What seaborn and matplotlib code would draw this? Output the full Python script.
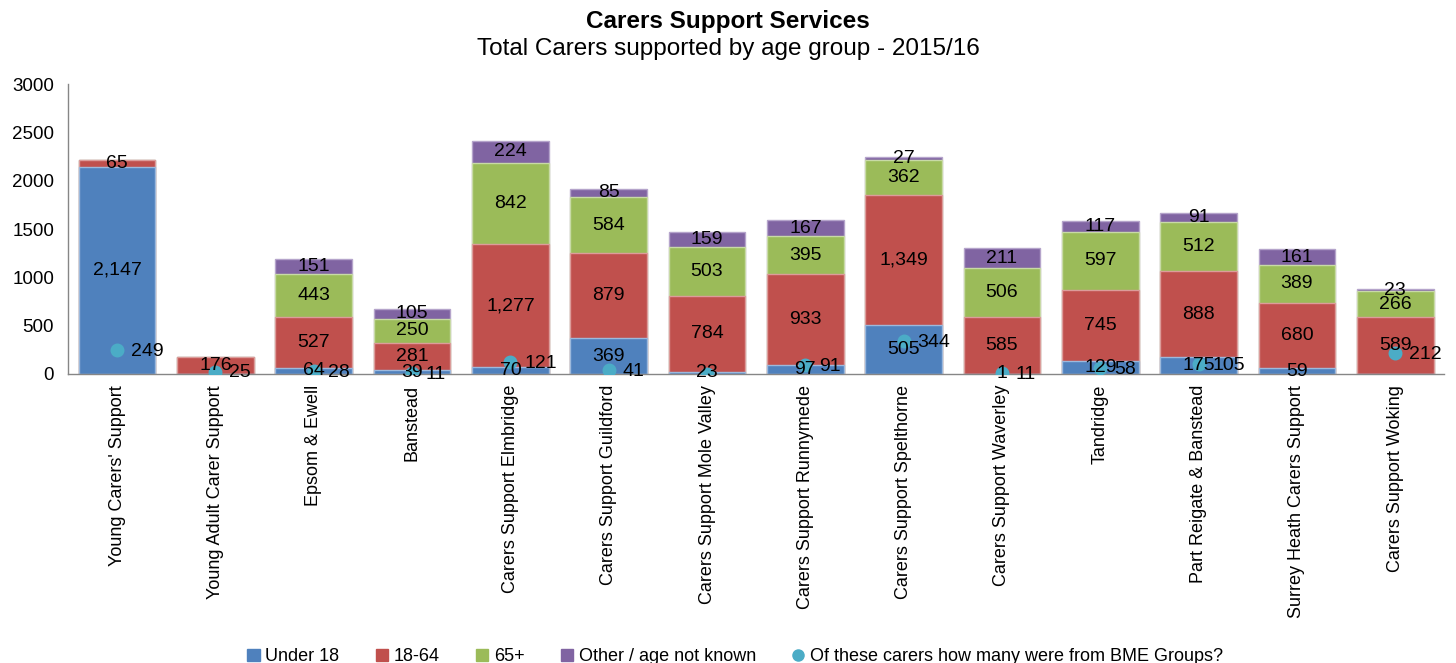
import numpy as np
import pandas as pd
import matplotlib
matplotlib.use("Agg")
import matplotlib.pyplot as plt
import seaborn as sns
from matplotlib.patches import Patch
from matplotlib.lines import Line2D

categories = ["Young Carers' Support", "Young Adult Carer Support", "Epsom & Ewell", "Banstead",
              "Carers Support Elmbridge", "Carers Support Guildford", "Carers Support Mole Valley",
              "Carers Support Runnymede", "Carers Support Spelthorne", "Carers Support Waverley",
              "Tandridge", "Part Reigate & Banstead", "Surrey Heath Carers Support", "Carers Support Woking"]
under18 = [2147, 0, 64, 39, 70, 369, 23, 97, 505, 1, 129, 175, 59, 0]
age18_64 = [65, 176, 527, 281, 1277, 879, 784, 933, 1349, 585, 745, 888, 680, 589]
age65 = [0, 0, 443, 250, 842, 584, 503, 395, 362, 506, 597, 512, 389, 266]
other = [0, 0, 151, 105, 224, 85, 159, 167, 27, 211, 117, 91, 161, 23]
bme = [249, 25, 28, 11, 121, 41, 0, 91, 344, 11, 58, 105, np.nan, 212]
series_names = ["Under 18", "18-64", "65+", "Other / age not known"]
bme_name = "Of these carers how many were from BME Groups?"
yticks = [0, 500, 1000, 1500, 2000, 2500, 3000]

colors = ["#4F81BD", "#C0504D", "#9BBB59", "#8064A2"]
edge_colors = ["#9DB9DC", "#DC9C9A", "#C8DAA6", "#B5A4CB"]
bme_color = "#4BACC6"

sns.set_style("white")
plt.rcParams['font.family'] = ['Liberation Sans', 'DejaVu Sans']
plt.rcParams['text.color'] = 'black'
plt.rcParams['xtick.color'] = 'black'
plt.rcParams['ytick.color'] = 'black'
plt.rcParams['axes.labelcolor'] = 'black'

fig = plt.figure(figsize=(14.56, 6.63), dpi=100)
ax = fig.add_axes([0.0467, 0.436, 0.9453, 0.437])

series = [under18, age18_64, age65, other]
cum = np.cumsum(np.array(series, dtype=float), axis=0)
df = pd.DataFrame({"cat": categories})
for k in range(3, -1, -1):
    df["v"] = cum[k]
    sns.barplot(data=df, x="cat", y="v", color=colors[k], saturation=1, width=0.78,
                edgecolor=edge_colors[k], linewidth=1.0, ax=ax, zorder=2)

# segment labels
for k in range(4):
    for i, v in enumerate(series[k]):
        if v > 0:
            mid = (cum[k][i] - v) + v / 2
            ax.text(i, mid, f"{v:,}", ha="center", va="center", fontsize=14, color="black", zorder=5)

# BME points
bdf = pd.DataFrame({"cat": categories, "bme": bme})
sns.pointplot(data=bdf, x="cat", y="bme", linestyle="none", marker="o", color=bme_color,
              markersize=8, errorbar=None, ax=ax, zorder=4)
for i, v in enumerate(bme):
    if not np.isnan(v) and v > 0:
        ax.annotate(f"{int(v)}", (i, v), xytext=(10, -1), textcoords="offset points",
                    ha="left", va="center", fontsize=14, color="black", zorder=6)

ax.set_xlim(-0.5, len(categories) - 0.5)
ax.set_ylim(0, 3000)
ax.set_yticks(yticks)
ax.set_yticklabels([str(t) for t in yticks], fontsize=13.5)
ax.set_xlabel("")
ax.set_ylabel("")
ax.set_xticks(range(len(categories)))
ax.set_xticklabels(categories, rotation=90, fontsize=13, ha="center", va="top")
ax.set_xticks(np.arange(-0.5, len(categories), 1.0), minor=True)
ax.tick_params(axis="x", which="major", length=0, pad=8)
ax.tick_params(axis="x", which="minor", length=6, color="#868686", direction="out")
ax.tick_params(axis="y", length=6, color="#868686", labelcolor="black", direction="out", pad=4)
for s in ["top", "right"]:
    ax.spines[s].set_visible(False)
for s in ["left", "bottom"]:
    ax.spines[s].set_color("#868686")
    ax.spines[s].set_linewidth(1)
ax.grid(False)

fig.text(0.5, 0.968, "Carers Support Services", ha="center", va="center", fontsize=17.5,
         fontweight="bold", color="black")
fig.text(0.5, 0.926, "Total Carers supported by age group - 2015/16", ha="center", va="center",
         fontsize=17.5, color="black")

handles = [Patch(facecolor=c, edgecolor=c) for c in colors]
handles.append(Line2D([0], [0], marker="o", linestyle="none", markerfacecolor=bme_color,
                      markeredgecolor=bme_color, markersize=8))
leg = fig.legend(handles, series_names + [bme_name], loc="lower center", bbox_to_anchor=(0.505, -0.028),
                 ncol=5, frameon=False, fontsize=13, handlelength=0.7, handleheight=0.7,
                 handletextpad=0.3, columnspacing=2.0)
for t in leg.get_texts():
    t.set_color("black")

fig.savefig("out.png", dpi=100)
